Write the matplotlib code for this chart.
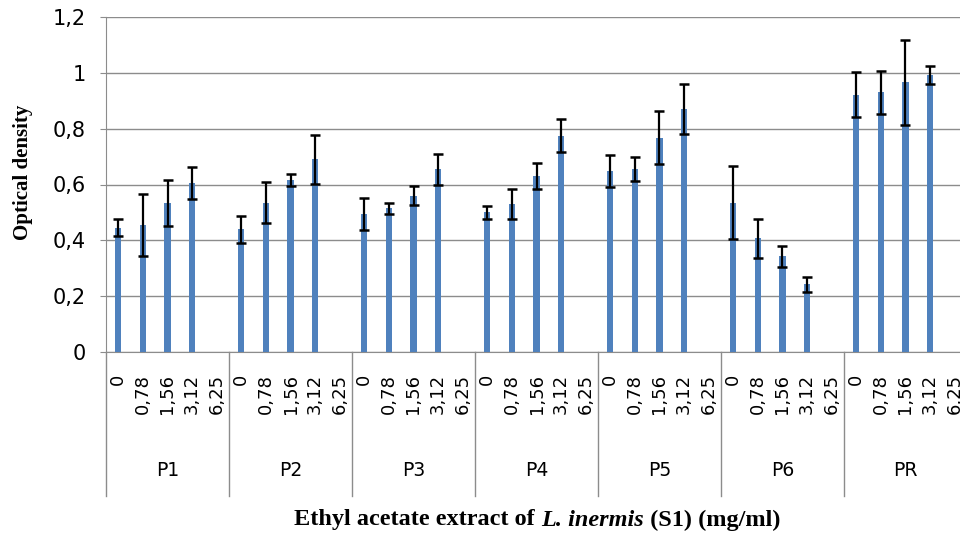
import numpy as np
import matplotlib.pyplot as plt

conc = ['0', '0,78', '1,56', '3,12', '6,25']
groups = ['P1', 'P2', 'P3', 'P4', 'P5', 'P6', 'PR']

# optical density, 6,25 mg/ml has no bar
p1 = [0.445, 0.455, 0.535, 0.605, np.nan]
p2 = [0.44, 0.535, 0.615, 0.69, np.nan]
p3 = [0.495, 0.515, 0.56, 0.655, np.nan]
p4 = [0.50, 0.53, 0.63, 0.775, np.nan]
p5 = [0.648, 0.655, 0.768, 0.87, np.nan]
p6 = [0.535, 0.408, 0.343, 0.242, np.nan]
pr = [0.922, 0.93, 0.966, 0.993, np.nan]

e1 = [0.03, 0.11, 0.082, 0.058, np.nan]
e2 = [0.048, 0.074, 0.021, 0.088, np.nan]
e3 = [0.057, 0.02, 0.035, 0.055, np.nan]
e4 = [0.023, 0.055, 0.047, 0.058, np.nan]
e5 = [0.058, 0.043, 0.096, 0.09, np.nan]
e6 = [0.13, 0.07, 0.037, 0.028, np.nan]
er = [0.082, 0.076, 0.153, 0.032, np.nan]

vals = np.array(p1 + p2 + p3 + p4 + p5 + p6 + pr)
errs = np.array(e1 + e2 + e3 + e4 + e5 + e6 + er)
labels = conc * len(groups)
x = np.arange(len(vals))

W, H = 960, 535
fig = plt.figure(figsize=(9.6, 5.35), dpi=100)
ax = fig.add_axes([106 / W, 1 - 352 / H, 861 / W, 335 / H])

ax.bar(x, vals, width=0.25, color='#4F81BD', zorder=3)
ax.errorbar(x, vals, yerr=errs, fmt='none', ecolor='black', elinewidth=1.6,
            capsize=3.8, capthick=1.8, zorder=4)

ax.set_xlim(-0.5, len(vals) - 0.5)
ax.set_ylim(0, 1.2)
yt = [0, 0.2, 0.4, 0.6, 0.8, 1, 1.2]
ax.set_yticks(yt)
ax.set_yticklabels(['0', '0,2', '0,4', '0,6', '0,8', '1', '1,2'], fontsize=15)
ax.grid(axis='y', color='#8c8c8c', linewidth=1, zorder=0)
ax.set_xticks(x)
ax.set_xticklabels(labels, rotation=90, fontsize=13, va='top')
ax.tick_params(axis='x', length=0, pad=16)
ax.tick_params(axis='y', length=4.5, color='#8c8c8c', pad=10)

for s in ['top', 'right']:
    ax.spines[s].set_visible(False)
for s in ['left', 'bottom']:
    ax.spines[s].set_color('#8c8c8c')

# group separators and group names
low = -(496 - 352) / 335
for k in range(len(groups) + 1):
    ax.plot([k * 5 - 0.5, k * 5 - 0.5], [0, low], color='#8c8c8c', lw=1,
            transform=ax.get_xaxis_transform(), clip_on=False)
for k, g in enumerate(groups):
    ax.text(k * 5 + 2, -(470 - 352) / 335, g, ha='center', va='center',
            fontsize=13.5, transform=ax.get_xaxis_transform())

fig.text(23 / W, 1 - 172 / H, 'Optical density', rotation=90, ha='center',
         va='center', fontsize=15, fontweight='bold', family='Liberation Serif')

# x label with italic species name
parts = [('Ethyl acetate extract of ', 'normal'), ('L. inermis', 'italic'),
         (' (S1) (mg/ml)', 'normal')]
texts = []
for s, st in parts:
    t = fig.text(0, 1 - 520 / H, s, ha='left', va='center', fontsize=17.5,
                 fontweight='bold', fontstyle=st, family='Liberation Serif')
    texts.append(t)
fig.canvas.draw()
r = fig.canvas.get_renderer()
widths = [t.get_window_extent(r).width for t in texts]
start = 537 - sum(widths) / 2
for t, w in zip(texts, widths):
    t.set_x(start / W)
    start += w

fig.savefig('out.png', dpi=100)
